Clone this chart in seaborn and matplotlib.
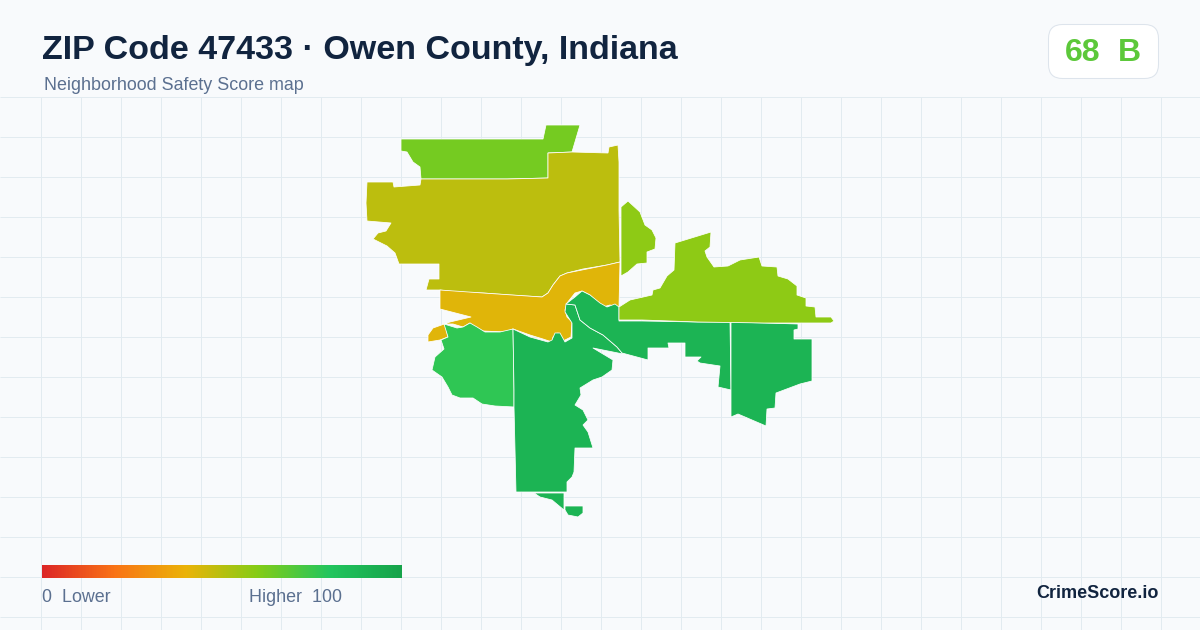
import numpy as np
import matplotlib
matplotlib.use("Agg")
import matplotlib.pyplot as plt
from matplotlib.patches import FancyBboxPatch, Polygon
import seaborn as sns

# Couleurs
BG = "#f8fafc"
GRID = "#e2ebf0"
NAVY = "#11243f"
SLATE = "#5b7090"
SCORE_COLOR = "#5cc83a"

# Text
title = "ZIP Code 47433 · Owen County, Indiana"
subtitle = "Neighborhood Safety Score map"
badge_score = "68"
badge_grade = "B"
legend_low = "0  Lower"
legend_high = "Higher  100"
brand = "CrimeScore.io"

ramp_colors = ["#dc2626", "#f97316", "#eab308", "#84cc16", "#22c55e", "#16a34a"]

# Tract scores
north_score = 63
central_score = 49
river_score = 42
west_score = 77
south_score = 90
east_lime_score = 58

# Tract outlines, in image pixels
north_tract = [(401, 139), (458, 139), (543, 139), (546, 125), (580, 125), (572, 152), (548, 153), (548, 178),
               (507, 179), (457, 179), (433, 179), (421, 179), (420, 167), (413, 162), (407, 152), (401, 151)]
central_tract = [(548, 153), (572, 152), (608, 153), (609, 147), (618, 145), (619, 162), (619, 210), (620, 262),
                 (607, 265), (583, 269), (567, 273), (560, 276), (553, 285), (548, 293), (542, 297), (510, 295),
                 (483, 293), (457, 292), (440, 290), (426, 290), (429, 279), (439, 279), (439, 264), (399, 264),
                 (395, 253), (387, 246), (373, 239), (378, 233), (386, 231), (391, 223), (367, 221), (366, 203),
                 (367, 182), (393, 182), (394, 187), (420, 185), (421, 179), (457, 179), (507, 179), (548, 178)]
river_tract = [(440, 290), (483, 293), (542, 297), (548, 293), (553, 285), (560, 276), (567, 273), (607, 265),
               (620, 262), (619, 307), (610, 305), (603, 307), (598, 303), (590, 295), (582, 291), (575, 293),
               (567, 303), (565, 310), (567, 317), (572, 322), (571, 337), (563, 341), (558, 333), (553, 337),
               (552, 342), (543, 339), (530, 335), (513, 329), (505, 332), (483, 331), (475, 327), (470, 323),
               (463, 327), (453, 324), (445, 324), (448, 337), (440, 340), (428, 342), (428, 335), (433, 328),
               (450, 322), (471, 317), (440, 309)]
west_tract = [(444, 324), (457, 328), (463, 327), (470, 323), (477, 327), (485, 332), (500, 332), (513, 329),
              (514, 390), (514, 407), (495, 406), (482, 404), (473, 398), (460, 398), (452, 395), (448, 387),
              (442, 377), (432, 370), (435, 357), (444, 349), (441, 340), (448, 337)]
south_tract = [(513, 329), (530, 337), (548, 342), (552, 340), (555, 333), (560, 333), (565, 342), (572, 338),
               (572, 323), (565, 312), (566, 304), (575, 305), (580, 320), (590, 328), (603, 335), (617, 347),
               (623, 354), (593, 348), (613, 360), (612, 370), (602, 377), (593, 380), (580, 388), (581, 395),
               (575, 405), (583, 410), (588, 420), (583, 425), (588, 432), (593, 448), (575, 448), (574, 472),
               (572, 477), (567, 482), (567, 492), (516, 492), (514, 407), (514, 390)]
east_strip = [(566, 304), (575, 297), (582, 291), (590, 295), (600, 303), (607, 307), (615, 304), (619, 307),
              (619, 321), (642, 321), (698, 322), (730, 322), (731, 390), (718, 387), (720, 366), (700, 363),
              (697, 361), (701, 357), (685, 357), (685, 343), (668, 343), (669, 348), (648, 348), (648, 360),
              (622, 353), (617, 347), (603, 335), (590, 328), (580, 320), (575, 305)]
east_block = [(731, 322), (764, 323), (798, 324), (798, 329), (794, 330), (794, 339), (812, 339), (812, 381),
              (800, 384), (776, 393), (775, 408), (767, 409), (766, 426), (738, 414), (731, 417)]
east_lime = [(619, 307), (630, 300), (652, 295), (653, 290), (660, 288), (667, 276), (674, 270), (675, 243),
             (711, 232), (710, 247), (705, 251), (707, 257), (714, 267), (728, 266), (740, 260), (759, 257),
             (762, 266), (777, 267), (778, 276), (788, 279), (797, 286), (797, 295), (806, 298), (806, 306),
             (815, 307), (816, 317), (831, 317), (834, 321), (831, 323), (764, 323), (698, 322), (642, 320),
             (619, 320)]
mid_lime = [(621, 207), (628, 201), (640, 212), (645, 225), (652, 230), (656, 238), (655, 249), (647, 252),
            (647, 263), (637, 264), (628, 272), (621, 276)]
south_wedge = [(534, 493), (564, 493), (564, 510), (558, 505), (552, 500), (540, 497)]
south_tip = [(565, 506), (583, 506), (583, 513), (578, 517), (568, 515), (565, 510)]

tracts = [
    (north_tract, north_score),
    (central_tract, central_score),
    (river_tract, river_score),
    (west_tract, west_score),
    (south_tract, south_score),
    (east_strip, south_score),
    (east_block, south_score),
    (east_lime, east_lime_score),
    (mid_lime, east_lime_score),
    (south_wedge, south_score),
    (south_tip, south_score),
]


def main():
    sns.set_theme(style="white")
    plt.rcParams["font.family"] = ["Liberation Sans", "DejaVu Sans"]

    cmap = sns.blend_palette(ramp_colors, n_colors=256, as_cmap=True)

    fig = plt.figure(figsize=(12, 6.3), dpi=100, facecolor=BG)
    ax = fig.add_axes([0, 0, 1, 1], facecolor=BG)
    ax.set_xlim(0, 1200)
    ax.set_ylim(630, 0)
    ax.axis("off")

    # Background grid
    ax.vlines(np.arange(40.5, 1200, 40), 97, 630, color=GRID, lw=0.72, zorder=0)
    ax.hlines(np.arange(96.5, 630, 40), 0, 1200, color=GRID, lw=0.72, zorder=0)

    # Tracts
    for outline, score in tracts:
        ax.add_patch(Polygon(outline, closed=True, facecolor=cmap(score / 100),
                             edgecolor="white", lw=0.55, joinstyle="round", zorder=2))

    # Header
    ax.text(42, 50, title, fontsize=24.5, fontweight="bold", color=NAVY, va="center", ha="left")
    ax.text(44, 86, subtitle, fontsize=12.9, color=SLATE, va="center", ha="left")

    # Score badge
    ax.add_patch(FancyBboxPatch((1048.5, 24.5), 110, 54, boxstyle="round,pad=0,rounding_size=14",
                                facecolor="white", edgecolor="#dde4ec", lw=0.75, zorder=2))
    ax.text(1083, 53, badge_score, fontsize=23, fontweight="bold", color=SCORE_COLOR,
            va="center", ha="center", zorder=3)
    ax.text(1129, 53, badge_grade, fontsize=23, fontweight="bold", color=SCORE_COLOR,
            va="center", ha="center", zorder=3)

    # Colour ramp legend
    cax = fig.add_axes([42 / 1200, 1 - 578 / 630, 360 / 1200, 13 / 630])
    sns.heatmap(np.linspace(0, 1, 360).reshape(1, -1), ax=cax, cmap=cmap, vmin=0, vmax=1,
                cbar=False, xticklabels=False, yticklabels=False)
    ax.text(42, 597, legend_low, fontsize=12.9, color=SLATE, va="center", ha="left")
    ax.text(249, 597, legend_high, fontsize=12.9, color=SLATE, va="center", ha="left")

    ax.text(1158.5, 594, brand, fontsize=13, fontweight="bold", color=NAVY, va="center", ha="right")

    fig.savefig("out.png", dpi=100, facecolor=BG)


if __name__ == "__main__":
    main()
